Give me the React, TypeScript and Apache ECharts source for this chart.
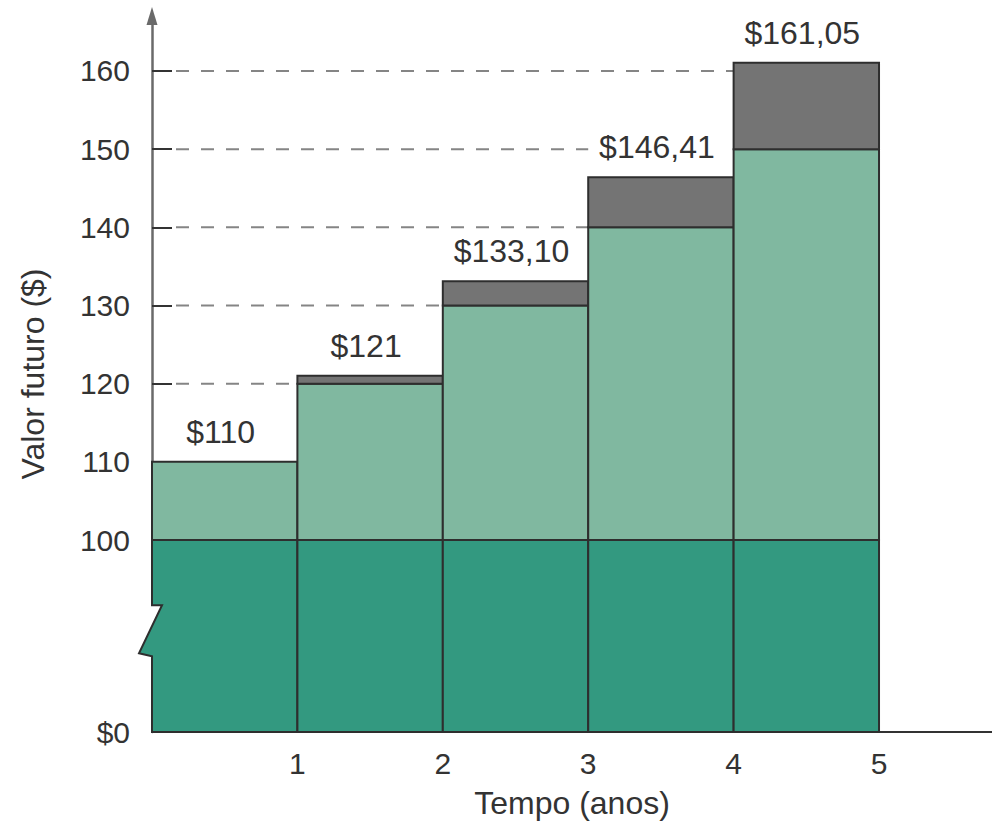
import React, { useEffect, useRef } from "react";
import * as echarts from "echarts";

// ---- data ----
const years = [1, 2, 3, 4, 5];
const principal = [100, 100, 100, 100, 100];
const simpleValue = [110, 120, 130, 140, 150];
const compoundValue = [110, 121, 133.1, 146.41, 161.05];
const valueLabels = ["$110", "$121", "$133,10", "$146,41", "$161,05"];
const dashLevels = [120, 130, 140, 150, 160];
const dashEnds = [1, 2, 3, 3, 4];
const yTickValues = [100, 110, 120, 130, 140, 150, 160];
const yZeroLabel = "$0";
const xTickValues = [1, 2, 3, 4, 5];

// axis break: "$0" sits at the bottom of the (broken) axis
const Y_MIN = 75.44;
const Y_MAX = 167.03;
const X_MAX = 5.777;

const FONT = "'Liberation Sans', Arial, Helvetica, sans-serif";
const TEXT = "#333333";
const C_BASE = "#339980";
const C_SIMPLE = "#80b8a0";
const C_COMP = "#747474";
const STROKE = "#2e2e2e";

export default function App() {
  const ref = useRef<HTMLDivElement>(null);
  useEffect(() => {
    if (!ref.current) return;
    const chart = echarts.init(ref.current, null, { renderer: "svg" });

    const barData = years.map((y, i) => [
      y - 1,
      y,
      principal[i],
      simpleValue[i],
      compoundValue[i],
    ]);
    const dashData = dashLevels.map((lv, i) => [dashEnds[i], lv]);

    const renderBar = (params: any, api: any) => {
      const i = params.dataIndex;
      const x0 = api.value(0);
      const x1 = api.value(1);
      const p = api.value(2);
      const s = api.value(3);
      const c = api.value(4);
      const bl = api.coord([x0, Y_MIN]);
      const br = api.coord([x1, Y_MIN]);
      const pTop = api.coord([x0, p])[1];
      const sTop = api.coord([x0, s])[1];
      const cTop = api.coord([x0, c])[1];
      const xl = bl[0];
      const xr = br[0];
      const yb = bl[1];
      const children: any[] = [];
      const stroke = { stroke: STROKE, lineWidth: 2 };

      if (i === 0) {
        const nTop = pTop + 0.34 * (yb - pTop);
        const nBot = pTop + 0.59 * (yb - pTop);
        children.push({
          type: "polygon",
          shape: {
            points: [
              [xl - 4, nTop - 1],
              [xl + 11, nTop - 1],
              [xl - 4, nTop + 30],
            ],
          },
          style: { fill: "#ffffff" },
        });
        children.push({
          type: "polygon",
          shape: {
            points: [
              [xl, pTop],
              [xr, pTop],
              [xr, yb],
              [xl, yb],
              [xl, nBot + 3],
              [xl - 13, nBot],
              [xl + 10, nTop],
              [xl, nTop],
            ],
          },
          style: { fill: C_BASE, ...stroke, lineJoin: "miter" },
        });
      } else {
        children.push({
          type: "rect",
          shape: { x: xl, y: pTop, width: xr - xl, height: yb - pTop },
          style: { fill: C_BASE, ...stroke },
        });
      }
      children.push({
        type: "rect",
        shape: { x: xl, y: sTop, width: xr - xl, height: pTop - sTop },
        style: { fill: C_SIMPLE, ...stroke },
      });
      if (c > s) {
        children.push({
          type: "rect",
          shape: { x: xl, y: cTop, width: xr - xl, height: sTop - cTop },
          style: { fill: C_COMP, ...stroke },
        });
      }
      children.push({
        type: "text",
        style: {
          text: valueLabels[i],
          x: (xl + xr) / 2 - 4,
          y: cTop - 14,
          align: "center",
          verticalAlign: "bottom",
          fontSize: 32,
          fontFamily: FONT,
          fill: TEXT,
        },
      });
      return { type: "group", children };
    };

    const renderDash = (params: any, api: any) => {
      const end = api.coord([api.value(0), api.value(1)]);
      const start = api.coord([0, api.value(1)]);
      return {
        type: "line",
        shape: { x1: start[0] + 24, y1: start[1], x2: end[0], y2: end[1] },
        style: { stroke: "#858585", lineWidth: 2, lineDash: [13, 12] },
      };
    };

    chart.setOption({
      animation: false,
      backgroundColor: "#ffffff",
      textStyle: { fontFamily: FONT },
      grid: {
        left: 152,
        right: 0,
        top: 16,
        bottom: 832 - 732,
        containLabel: false,
        outerBoundsMode: "none",
      },
      xAxis: {
        type: "value",
        min: 0,
        max: X_MAX,
        splitLine: { show: false },
        axisLine: { show: true, lineStyle: { color: "#333333", width: 2 } },
        axisTick: { show: false },
        axisLabel: {
          customValues: xTickValues,
          fontSize: 30,
          color: TEXT,
          fontFamily: FONT,
          margin: 16,
        },
        name: "Tempo (anos)",
        nameLocation: "middle",
        nameGap: 55,
        nameTextStyle: { fontSize: 32, color: TEXT, fontFamily: FONT },
      },
      yAxis: {
        type: "value",
        min: Y_MIN,
        max: Y_MAX,
        splitLine: { show: false },
        axisLine: {
          show: true,
          symbol: ["none", "triangle"],
          symbolSize: [11, 18],
          lineStyle: { color: "#6a6a6a", width: 2.5 },
        },
        axisTick: {
          show: true,
          inside: true,
          length: 20,
          customValues: yTickValues,
          lineStyle: { color: "#333333", width: 2 },
        },
        axisLabel: {
          customValues: [Y_MIN, ...yTickValues],
          formatter: (v: number) => (v < 100 ? yZeroLabel : String(v)),
          fontSize: 30,
          color: TEXT,
          fontFamily: FONT,
          margin: 22,
        },
        name: "Valor futuro ($)",
        nameLocation: "middle",
        nameGap: 103,
        nameRotate: 90,
        nameTextStyle: { fontSize: 32, color: TEXT, fontFamily: FONT },
      },
      series: [
        {
          type: "custom",
          name: "dashes",
          data: dashData,
          encode: { x: 0, y: 1 },
          renderItem: renderDash,
          clip: false,
          silent: true,
          z: 1,
        },
        {
          type: "custom",
          name: "bars",
          data: barData,
          encode: { x: [0, 1], y: [2, 3, 4] },
          renderItem: renderBar,
          clip: false,
          silent: true,
          z: 3,
        },
      ],
    });
    return () => chart.dispose();
  }, []);

  return (
    <div
      ref={ref}
      style={{ position: "absolute", left: 0, top: 0, width: 992, height: 832 }}
    />
  );
}
